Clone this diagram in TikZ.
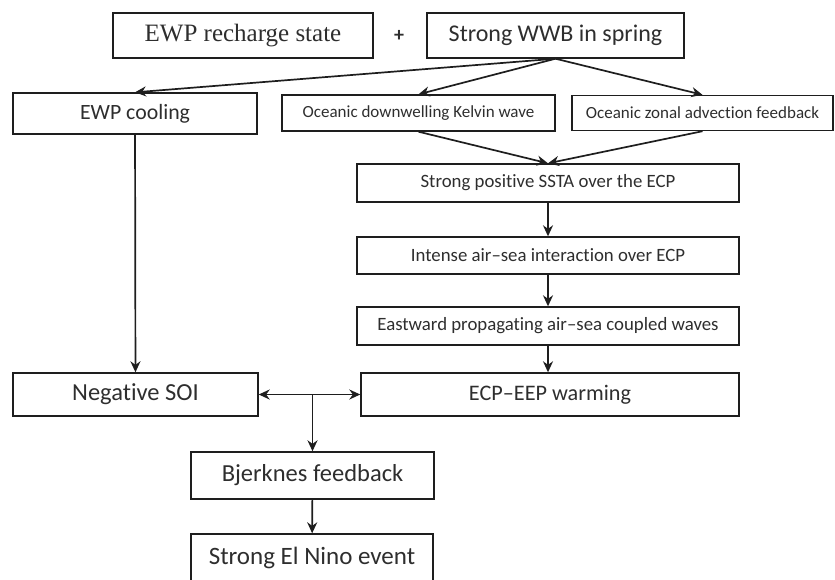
\documentclass[tikz,border=0pt]{standalone}
\usepackage{fontspec}
\setmainfont{Carlito}[Ligatures=NoCommon]
\newfontfamily\tnr{Liberation Serif}
\usetikzlibrary{arrows.meta}
\definecolor{cline}{HTML}{1E1E1E}
\definecolor{ctext}{HTML}{2E2E2E}

\begin{document}
\begin{tikzpicture}[x=1pt, y=-1pt,
  box/.style={draw=cline, line width=1.4pt, text=ctext, inner sep=0pt},
  big/.style={font=\fontsize{24.5}{27}\selectfont},
  mid/.style={font=\fontsize{18.8}{21}\selectfont},
  sml/.style={font=\fontsize{17}{19}\selectfont},
  arr/.style={draw=cline, line width=1.7pt, -{Stealth[length=11pt,width=10pt]}},
  both/.style={arr, {Stealth[length=11pt,width=10pt]}-{Stealth[length=11pt,width=10pt]}}]

\useasboundingbox (0,0) rectangle (835,579);

\node[box, minimum width=260pt, minimum height=45pt,
  font=\tnr\fontsize{25}{28}\selectfont] (rech) at (243,35.5) {EWP recharge state};
\node[font=\bfseries\fontsize{20}{22}\selectfont, text=ctext] (plus) at (399,36) {+};
\node[box, font=\fontsize{24}{27}\selectfont, minimum width=257pt, minimum height=45pt] (wwb) at (555.5,35.5) {Strong WWB in spring};

\node[box, font=\fontsize{21.8}{24}\selectfont, minimum width=244pt, minimum height=41pt] (cool) at (135,113.5) {EWP cooling};
\node[box, sml, minimum width=273pt, minimum height=36pt] (kelv) at (418.5,113) {Oceanic downwelling Kelvin wave};
\node[box, sml, minimum width=261pt, minimum height=35pt] (zonal) at (702.5,113) {Oceanic zonal advection feedback};

\node[box, mid, minimum width=382pt, minimum height=38pt] (ssta) at (548,183) {Strong positive SSTA over the ECP};
\node[box, mid, minimum width=382pt, minimum height=37pt] (inter) at (548,255.5) {Intense air–sea interaction over ECP};
\node[box, mid, minimum width=382pt, minimum height=38pt] (wave) at (548,326) {Eastward propagating air–sea coupled waves};
\node[box, font=\fontsize{22.2}{25}\selectfont, minimum width=378pt, minimum height=43pt] (warm) at (550,394.5) {ECP–EEP warming};
\node[box, big, minimum width=245pt, minimum height=43pt] (soi) at (135.5,394.5) {Negative SOI};

\node[box, big, minimum width=243pt, minimum height=47pt] (bjer) at (312.5,475.5) {Bjerknes feedback};
\node[box, font=\fontsize{25}{28}\selectfont, minimum width=242pt, minimum height=47pt] (nino) at (312,557.5) {Strong El Nino event};

% from the spring WWB
\draw[arr] (wwb.south) -- (cool.north);
\draw[arr] (wwb.south) -- (kelv.north);
\draw[arr] (wwb.south) -- (zonal.north);

% ocean chain
\draw[arr] (kelv.south) -- (ssta.north);
\draw[arr] (zonal.south) -- (ssta.north);
\draw[arr] (ssta) -- (inter);
\draw[arr] (inter) -- (wave);
\draw[arr] (wave.south) -- (wave.south |- warm.north);

% atmosphere side
\draw[arr] (cool) -- (soi);
\draw[both] (soi) -- (warm);
\coordinate (br) at (bjer.north |- soi.east);
\draw[arr] (br) -- (bjer);
\draw[arr] (bjer) -- (nino);
\end{tikzpicture}
\end{document}
